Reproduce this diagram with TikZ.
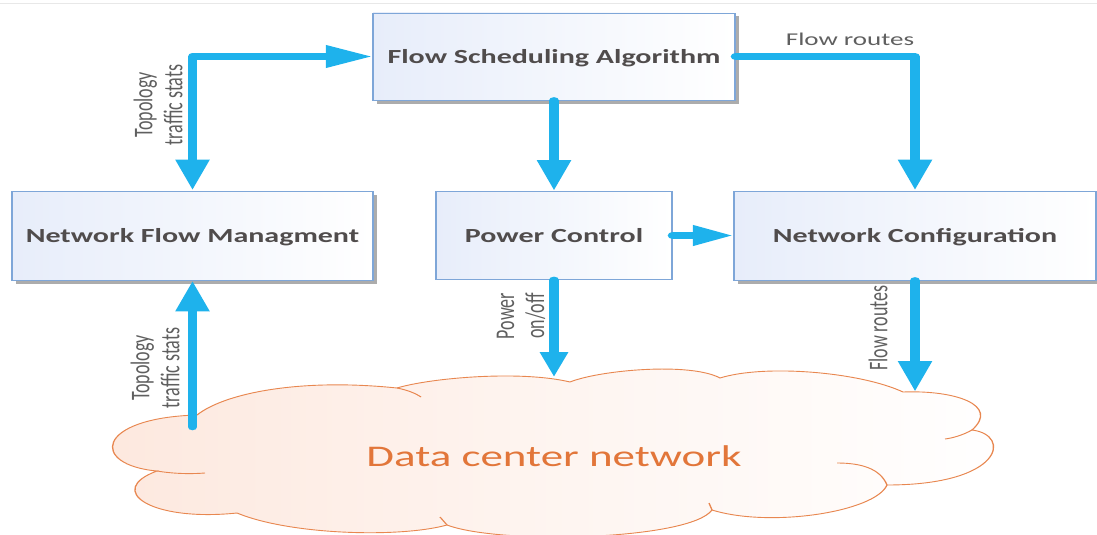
\documentclass[tikz,border=0pt]{standalone}
\usepackage{fontspec}
\usetikzlibrary{arrows.meta,shadows}
\newfontfamily\cfont{Carlito}
\definecolor{flowc}{RGB}{30,178,236}
\definecolor{boxline}{RGB}{126,166,216}
\definecolor{boxfill}{RGB}{231,237,250}
\definecolor{boxtext}{RGB}{80,76,76}
\definecolor{labtext}{RGB}{95,95,95}
\definecolor{cloudline}{RGB}{232,135,80}
\definecolor{cloudfill}{RGB}{253,232,222}
\definecolor{cloudtext}{RGB}{226,118,58}
\definecolor{frameline}{RGB}{232,232,232}
\tikzset{
  blockbox/.style={draw=boxline, line width=0.8pt, left color=boxfill, right color=white,
    text depth=0pt, inner sep=0pt, text=boxtext,
    font=\cfont\bfseries\fontsize{20}{24}\selectfont},
  shadowed/.style={drop shadow={shadow xshift=2.5pt, shadow yshift=-3.5pt, opacity=0.5, fill=black!65}},
  flowarrow/.style={draw=flowc, line width=6.5pt, line cap=round, line join=round},
  bigtip/.style={-{Triangle[length=31pt,width=21pt]}},
  lab/.style={font=\cfont\fontsize{18}{20}\selectfont, text=labtext, align=center, inner sep=0pt},
  cloudedge/.style={draw=cloudline, line width=0.9pt},
}
\begin{document}
\begin{tikzpicture}
\useasboundingbox (0pt,0pt) rectangle (1097pt,-535pt);
\begin{scope}[transform canvas={xscale=1.5}, x=0.666667pt, y=-1pt]
  % faint frame line at the top
  \draw[frameline, line width=1pt] (0,4) -- (1097,4);

  % cloud
  \path[cloudedge, left color=cloudfill, right color=white, middle color=cloudfill!45]
    (197,415) .. controls (225,393) and (300,378) .. (397,388)
    .. controls (430,378) and (520,370) .. (570,382)
    .. controls (600,370) and (690,362) .. (720,378)
    .. controls (765,364) and (860,372) .. (903,392)
    .. controls (955,390) and (1000,405) .. (972,430)
    .. controls (1012,435) and (1003,485) .. (887,485)
    .. controls (875,512) and (770,528) .. (712,510)
    .. controls (690,540) and (500,545) .. (447,525)
    .. controls (400,538) and (290,535) .. (237,513)
    .. controls (150,522) and (105,490) .. (157,471)
    .. controls (90,465) and (95,418) .. (197,415) -- cycle;
  \draw[cloudedge] (397,388) .. controls (407,390) and (415,393) .. (421,397);
  \draw[cloudedge] (157,471) .. controls (175,474) and (192,474) .. (205,473);
  \draw[cloudedge] (972,430) .. controls (963,435) and (953,438) .. (945,439);
  \draw[cloudedge] (887,485) .. controls (880,468) and (860,463) .. (837,463);
  \draw[cloudedge] (712,510) .. controls (711,507) .. (709,503);
  \draw[cloudedge] (447,525) .. controls (444,521) .. (440,517);
  \node[font=\cfont\fontsize{30}{36}\selectfont, text=cloudtext, anchor=base, inner sep=0pt]
    (dcn) at (554,466) {Data center network};

  % boxes
  \node[blockbox, shadowed, minimum width=241.3pt, minimum height=87pt] (fsa) at (554,56.5) {Flow Scheduling Algorithm};
  \node[blockbox, shadowed, minimum width=240.7pt, minimum height=89pt] (nfm) at (192.5,235.5) {Network Flow Managment};
  \node[blockbox, minimum width=157.3pt, minimum height=88pt] (pc) at (554,235.5) {Power Control};
  \node[blockbox, shadowed, minimum width=241.3pt, minimum height=89pt] (nc) at (915,235.5) {Network Configuration};

  % free ends on the cloud
  \coordinate (b1) at (192.5,427);
  \coordinate (b2) at (554,378);
  \coordinate (b3) at (915,392);

  % connectors
  \draw[flowarrow, {Triangle[length=31pt,width=21pt]}-{Triangle[length=31pt,width=21pt]}] (nfm.north) |- (fsa.west);
  \draw[flowarrow, bigtip] (b1) -- (nfm.south);
  \draw[flowarrow, bigtip] (fsa.south) -- (pc.north);
  \draw[flowarrow, bigtip] (fsa.east) -| (nc.north);
  \draw[flowarrow, -{Triangle[length=27pt,width=19pt]}] (pc.east) -- (nc.west);
  \draw[flowarrow, -{Triangle[length=26pt,width=17pt]}] (pc.south) -- (b2);
  \draw[flowarrow, bigtip] (nc.south) -- (b3);

  % labels
  \node[lab, rotate=90] (l1) at (158,105) {Topology\\traffic stats};
  \node[lab, rotate=90] (l2) at (155,368) {Topology\\traffic stats};
  \node[lab, rotate=90] (l3) at (521,316) {Power\\on/off};
  \node[lab, rotate=90] (l4) at (878,328) {Flow routes};
  \node[lab, anchor=base] (l5) at (850,46) {Flow routes};
\end{scope}
\end{tikzpicture}
\end{document}
